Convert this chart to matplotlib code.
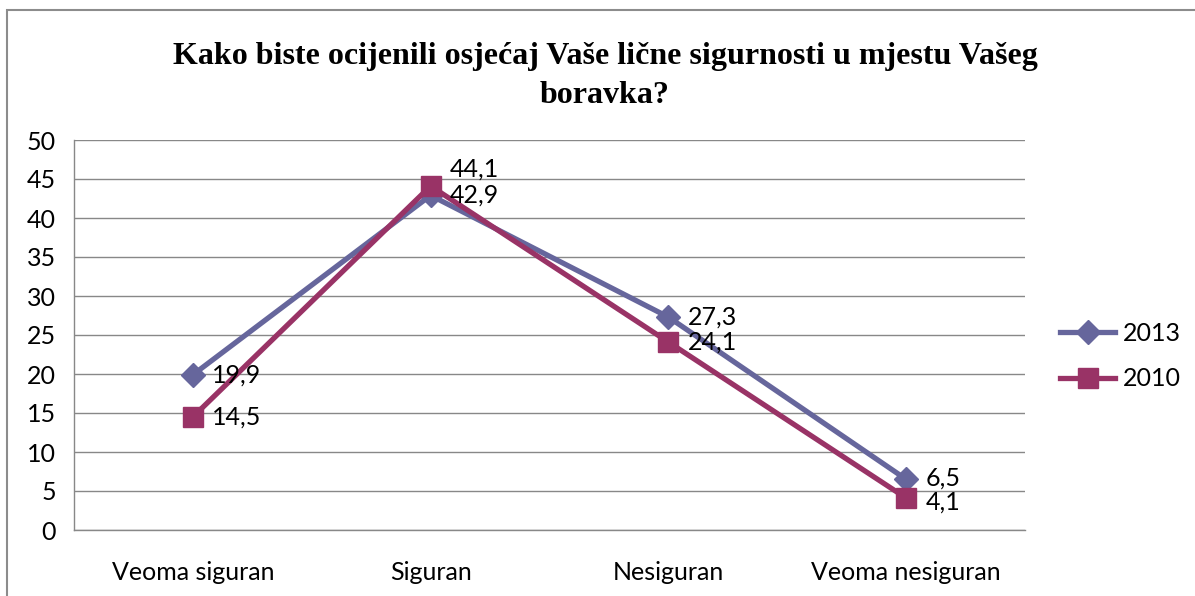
import matplotlib.pyplot as plt
from matplotlib.patches import Rectangle

categories = ["Veoma siguran", "Siguran", "Nesiguran", "Veoma nesiguran"]
values_2013 = [19.9, 42.9, 27.3, 6.5]
values_2010 = [14.5, 44.1, 24.1, 4.1]
series_names = ["2013", "2010"]
y_ticks = [0, 5, 10, 15, 20, 25, 30, 35, 40, 45, 50]

title = "Kako biste ocijenili osjećaj Vaše lične sigurnosti u mjestu Vašeg\nboravka?"

COLOR_2013 = "#66669C"
COLOR_2010 = "#993366"
GRID = "#888888"

plt.rcParams["font.family"] = ["Lato", "DejaVu Sans"]
plt.rcParams["font.size"] = 18

fig = plt.figure(figsize=(11.95, 5.96), dpi=100)
ax = fig.add_axes([74 / 1195, 66 / 596, 951 / 1195, 390 / 596])

x = list(range(len(categories)))
ax.plot(x, values_2013, color=COLOR_2013, linewidth=3.8, marker="D",
        markersize=12.5, label=series_names[0], zorder=3)
ax.plot(x, values_2010, color=COLOR_2010, linewidth=3.8, marker="s",
        markersize=14.5, label=series_names[1], zorder=4)

# data labels, right of each point
lbl_dy_2013 = [0, 0, 0, 1]
lbl_dy_2010 = [0, 12, 0, -3]
for i, v in enumerate(values_2013):
    ax.annotate(f"{v:.1f}".replace(".", ","), (x[i], v), xytext=(14, lbl_dy_2013[i]),
                textcoords="offset points", va="center", ha="left", fontsize=18, zorder=5)
for i, v in enumerate(values_2010):
    ax.annotate(f"{v:.1f}".replace(".", ","), (x[i], v), xytext=(14, lbl_dy_2010[i]),
                textcoords="offset points", va="center", ha="left", fontsize=18, zorder=5)

ax.set_xlim(-0.5, len(categories) - 0.5)
ax.set_ylim(0, 50)
ax.set_yticks(y_ticks)
ax.set_xticks(x)
ax.set_xticklabels(categories)
ax.tick_params(axis="both", length=0, labelsize=18)
ax.tick_params(axis="x", pad=22)
ax.tick_params(axis="y", pad=13)
ax.grid(axis="y", color=GRID, linewidth=1)
ax.set_axisbelow(True)
for s in ["top", "right"]:
    ax.spines[s].set_visible(False)
for s in ["left", "bottom"]:
    ax.spines[s].set_color(GRID)
    ax.spines[s].set_linewidth(1)

fig.text(605 / 1195, 1 - 76 / 596, title, ha="center", va="center",
         fontsize=23, fontweight="bold", family="Liberation Serif",
         linespacing=1.45)

fig.legend(loc="center left", bbox_to_anchor=(1060 / 1195, 1 - 356 / 596),
           frameon=False, fontsize=18, handlelength=2.2, labelspacing=0.9,
           handletextpad=0.3, borderaxespad=0, borderpad=0)

# outer chart frame (cropped at right and bottom)
fig.patches.append(Rectangle((7 / 1195, -0.05), 1.2, 1 - 10 / 596 + 0.05,
                             transform=fig.transFigure, fill=False,
                             edgecolor="#8C8C8C", linewidth=1.5))

fig.savefig("out.png", dpi=100)
